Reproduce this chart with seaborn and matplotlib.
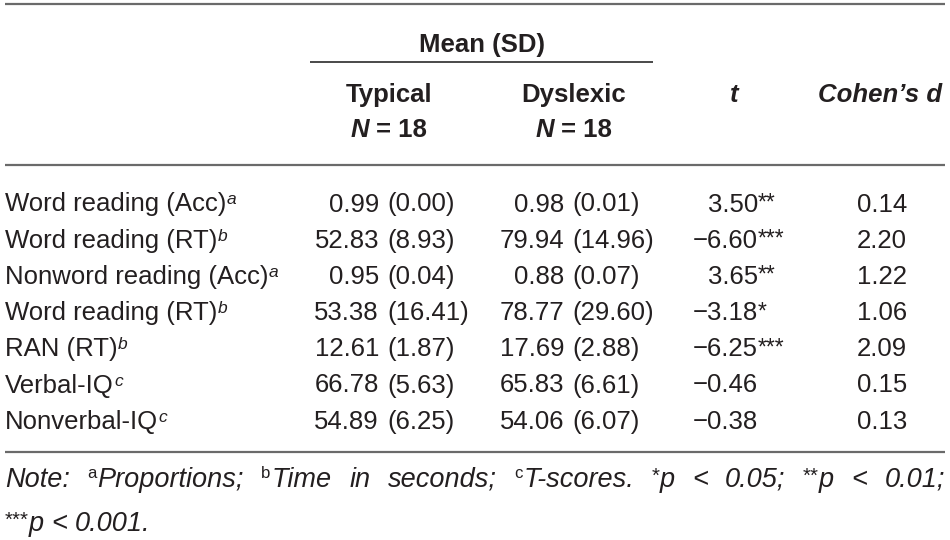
import matplotlib
matplotlib.use("Agg")
import matplotlib.pyplot as plt
import seaborn as sns
from matplotlib import font_manager

# Table content
measures = ["Word reading (Acc)", "Word reading (RT)", "Nonword reading (Acc)",
            "Word reading (RT)", "RAN (RT)", "Verbal-IQ", "Nonverbal-IQ"]
measure_notes = ["a", "b", "a", "b", "b", "c", "c"]
typical_mean = [0.99, 52.83, 0.95, 53.38, 12.61, 66.78, 54.89]
typical_sd = [0.00, 8.93, 0.04, 16.41, 1.87, 5.63, 6.25]
dyslexic_mean = [0.98, 79.94, 0.88, 78.77, 17.69, 65.83, 54.06]
dyslexic_sd = [0.01, 14.96, 0.07, 29.60, 2.88, 6.61, 6.07]
t_values = [3.50, -6.60, 3.65, -3.18, -6.25, -0.46, -0.38]
t_stars = ["**", "***", "**", "*", "***", "", ""]
cohens_d = [0.14, 2.20, 1.22, 1.06, 2.09, 0.15, 0.13]
group_names = ["Typical", "Dyslexic"]
group_n = [18, 18]


def has_font(name):
    try:
        font_manager.findfont(font_manager.FontProperties(family=name),
                              fallback_to_default=False)
        return True
    except ValueError:
        return False


sns.set_theme(style="white")
main_font = "Liberation Sans"
plt.rcParams["font.family"] = [main_font, "DejaVu Sans"]
if has_font("Liberation Sans Narrow"):
    note_font, note_size = "Liberation Sans Narrow", 20
else:
    note_font, note_size = main_font, 19.5

ink = "#231f20"
rule = "#6a6a6a"
fs = 18.5

fig = plt.figure(figsize=(9.5, 5.4), dpi=100)
ax = fig.add_axes([0, 0, 1, 1])
ax.set_xlim(0, 950)
ax.set_ylim(540, 0)
ax.axis("off")
renderer = fig.canvas.get_renderer()


def text_width(s, **kw):
    t = ax.text(0, 0, s, **kw)
    w = t.get_window_extent(renderer).width
    t.remove()
    return w


def draw_runs(runs, x, y, ha="left"):
    # runs: (text, style dict, rise) or (None, gap, 0)
    widths = [r[1] if r[0] is None else text_width(r[0], **r[1]) for r in runs]
    total = sum(widths)
    pos = {"left": x, "center": x - total / 2, "right": x - total}[ha]
    for (s, kw, rise), w in zip(runs, widths):
        if s is not None:
            ax.text(pos, y - rise, s, ha="left", va="baseline", color=ink, **kw)
        pos += w
    return total


def fmt(v):
    return f"{v:.2f}".replace("-", "\u2212")


body = dict(fontsize=fs)
bold = dict(fontsize=fs, fontweight="bold")
bold_it = dict(fontsize=fs, fontweight="bold", fontstyle="italic")
sup = dict(fontsize=12.5, fontstyle="italic")
star = dict(fontsize=16.5)

# horizontal rules
ax.plot([5, 945], [4, 4], color=rule, lw=1.6, solid_capstyle="butt")
ax.plot([310, 653], [62, 62], color="#2a2a2a", lw=1.2, solid_capstyle="butt")
ax.plot([5, 945], [165, 165], color=rule, lw=1.6, solid_capstyle="butt")
ax.plot([5, 945], [452, 452], color=rule, lw=1.6, solid_capstyle="butt")

# header
group_x = [389, 574]
ax.text(482, 52, "Mean (SD)", ha="center", va="baseline", color=ink, **bold)
for gx, name, n in zip(group_x, group_names, group_n):
    ax.text(gx, 102, name, ha="center", va="baseline", color=ink, **bold)
    draw_runs([("N", bold_it, 0), (None, 7, 0), (f"= {n}", bold, 0)], gx, 137, ha="center")
ax.text(734, 102, "t", ha="center", va="baseline", color=ink, **bold_it)
ax.text(880, 102, "Cohen\u2019s d", ha="center", va="baseline", color=ink, **bold_it)

# body rows
row_base = 211.5
row_step = 36.2
for i in range(len(measures)):
    y = row_base + i * row_step
    draw_runs([(measures[i], body, 0), (None, 0.5, 0), (measure_notes[i], sup, 7)], 5, y)
    ax.text(379, y, fmt(typical_mean[i]), ha="right", va="baseline", color=ink, **body)
    ax.text(387, y, f"({fmt(typical_sd[i])})", ha="left", va="baseline", color=ink, **body)
    ax.text(564, y, fmt(dyslexic_mean[i]), ha="right", va="baseline", color=ink, **body)
    ax.text(572, y, f"({fmt(dyslexic_sd[i])})", ha="left", va="baseline", color=ink, **body)
    ax.text(758, y, fmt(t_values[i]), ha="right", va="baseline", color=ink, **body)
    if t_stars[i]:
        ax.text(758, y - 2, t_stars[i], ha="left", va="baseline", color=ink, **star)
    ax.text(907, y, fmt(cohens_d[i]), ha="right", va="baseline", color=ink, **body)

# note (first line justified across the table width)
nm = dict(fontsize=note_size, fontstyle="italic", family=[note_font, "DejaVu Sans"])
ns = dict(fontsize=note_size * 0.62, family=[note_font, "DejaVu Sans"])
nst = dict(fontsize=note_size * 0.75, family=[note_font, "DejaVu Sans"])
note_words = [
    [("Note:", nm, 0)],
    [("a", ns, 9), (None, 1, 0), ("Proportions;", nm, 0)],
    [("b", ns, 9), (None, 1, 0), ("Time", nm, 0)],
    [("in", nm, 0)],
    [("seconds;", nm, 0)],
    [("c", ns, 9), (None, 1, 0), ("T-scores.", nm, 0)],
    [("*", nst, 5), ("p", nm, 0)],
    [("<", nm, 0)],
    [("0.05;", nm, 0)],
    [("**", nst, 5), ("p", nm, 0)],
    [("<", nm, 0)],
    [("0.01;", nm, 0)],
]
word_w = [sum(r[1] if r[0] is None else text_width(r[0], **r[1]) for r in w) for w in note_words]
gap = (940 - sum(word_w)) / (len(note_words) - 1)
x = 5
for w, ww in zip(note_words, word_w):
    draw_runs(w, x, 487)
    x += ww + gap

space = text_width("p p", **nm) - 2 * text_width("p", **nm)
draw_runs([("***", nst, 5), ("p", nm, 0), (None, space, 0), ("<", nm, 0),
           (None, space, 0), ("0.001.", nm, 0)], 5, 531)

fig.savefig("out.png", dpi=100)
